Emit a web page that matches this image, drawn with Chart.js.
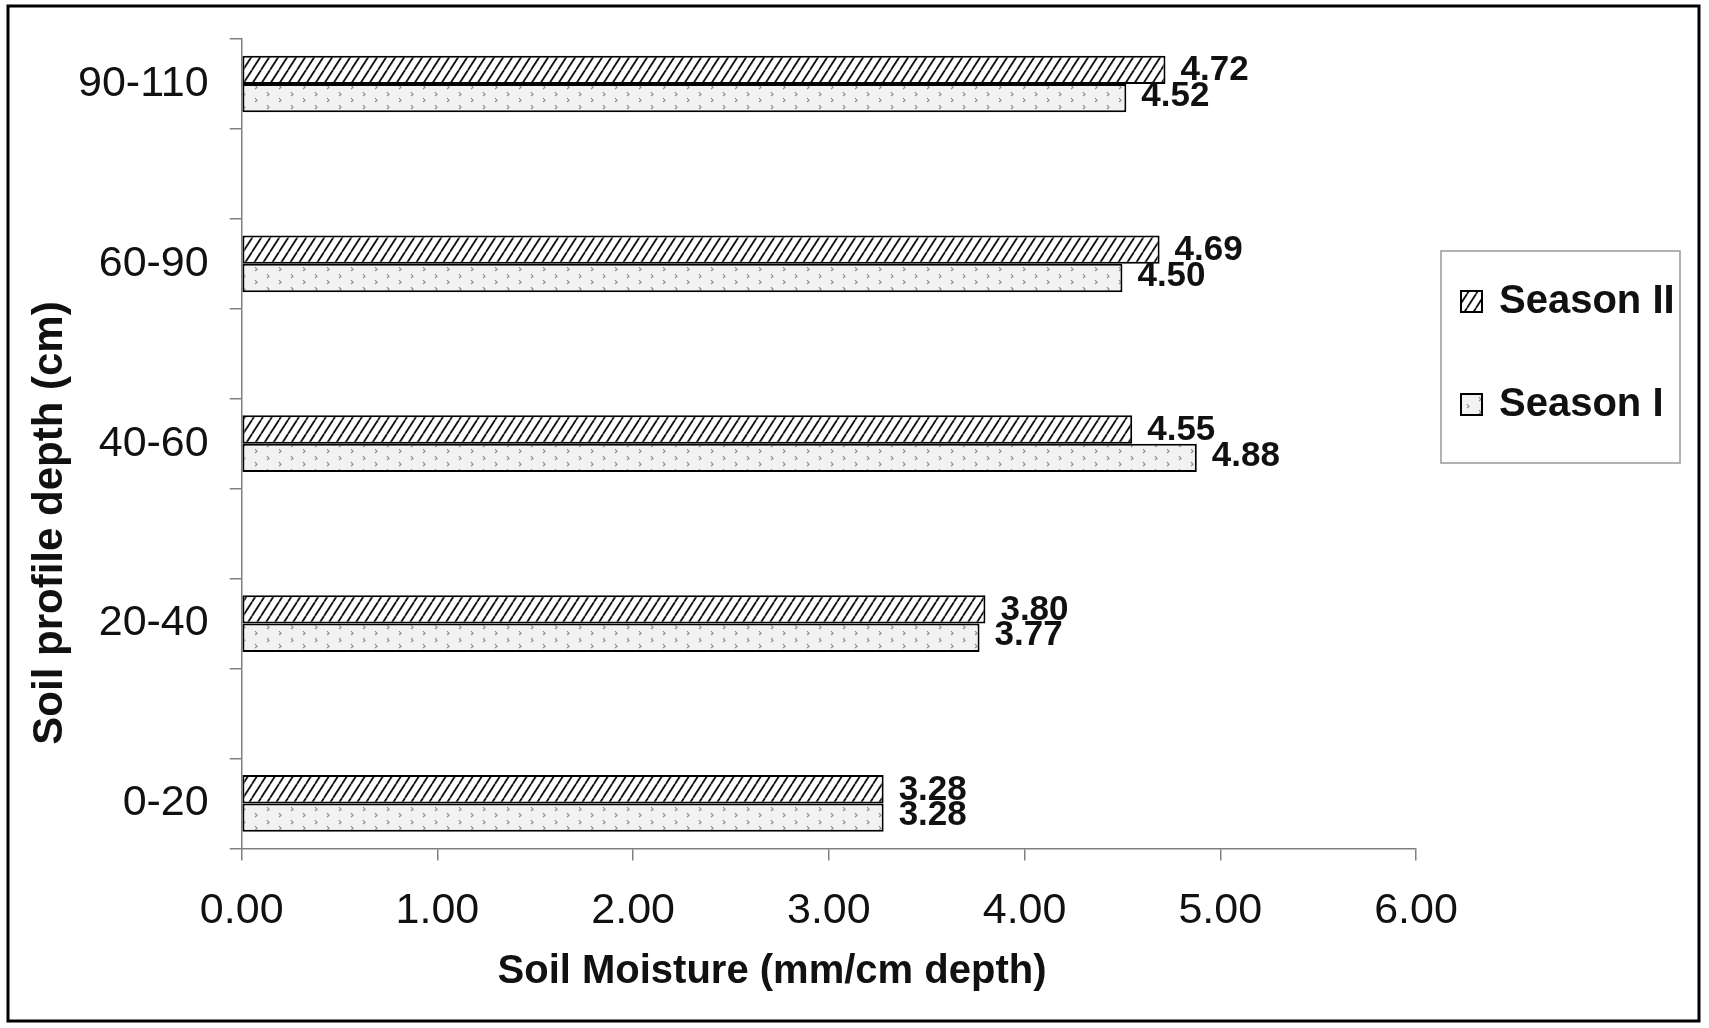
<!DOCTYPE html>
<html>
<head>
<meta charset="utf-8">
<title>Soil moisture by profile depth</title>
<script src="https://cdn.jsdelivr.net/npm/chart.js@4.4.1/dist/chart.umd.min.js"></script>
<style>
    html, body { margin: 0; padding: 0; background: #fff; }
    #wrap { width: 1709px; height: 1028px; }
</style>
</head>
<body>
<div id="wrap"><canvas id="moistureChart" width="1709" height="1028"></canvas></div>
<script>
// ==================== Data ====================
const depthLabels = ['90-110', '60-90', '40-60', '20-40', '0-20'];
const seasonTwo = [4.72, 4.69, 4.55, 3.80, 3.28];
const seasonOne = [4.52, 4.50, 4.88, 3.77, 3.28];
const xTicks = [0, 1, 2, 3, 4, 5, 6];

const xTitle = 'Soil Moisture (mm/cm depth)';
const yTitle = 'Soil profile depth (cm)';

const FONT = "'Liberation Sans', Arial, sans-serif";
const INK = '#111';
const AXIS = '#808080';

// original chart leaves an empty slot between depth groups
function withGaps(arr, filler) {
    const out = [];
    arr.forEach((v, i) => {
        if (i > 0) out.push(filler);
        out.push(v);
    });
    return out;
}

// ==================== Fill patterns ====================
function hatchPattern() {
    const w = 9, h = 14;
    const c = document.createElement('canvas');
    c.width = w; c.height = h;
    const g = c.getContext('2d');
    g.fillStyle = '#fff';
    g.fillRect(0, 0, w, h);
    g.strokeStyle = '#111';
    g.lineWidth = 1.8;
    [-w, 0, w].forEach(off => {
        g.beginPath();
        g.moveTo(off, h);
        g.lineTo(off + w, 0);
        g.stroke();
    });
    return g.createPattern(c, 'repeat');
}

function speckPattern() {
    const c = document.createElement('canvas');
    c.width = 24; c.height = 13;
    const g = c.getContext('2d');
    g.fillStyle = '#f2f2f2';
    g.fillRect(0, 0, 24, 13);
    g.strokeStyle = '#8c8c8c';
    g.lineWidth = 1.2;
    g.beginPath();
    g.moveTo(3, 1); g.lineTo(5, 3.5); g.lineTo(3, 5);
    g.moveTo(15, 7); g.lineTo(17, 9.5); g.lineTo(15, 11);
    g.stroke();
    return g.createPattern(c, 'repeat');
}

// ==================== Plugins ====================
const valueLabels = {
    id: 'valueLabels',
    afterDatasetsDraw(chart) {
        const ctx = chart.ctx;
        const nudge = [1, -2];
        ctx.save();
        ctx.font = `bold 35px ${FONT}`;
        ctx.fillStyle = INK;
        ctx.textAlign = 'left';
        ctx.textBaseline = 'middle';
        chart.data.datasets.forEach((ds, di) => {
            chart.getDatasetMeta(di).data.forEach((bar, i) => {
                const v = ds.data[i];
                if (v === null) return;
                ctx.fillText(v.toFixed(2), bar.x + 15, bar.y + nudge[di]);
            });
        });
        ctx.restore();
    }
};

// axis titles sit off-centre in the original, so they are drawn here
const axisTitles = {
    id: 'axisTitles',
    afterDraw(chart) {
        const ctx = chart.ctx;
        ctx.save();
        ctx.fillStyle = INK;
        ctx.textAlign = 'center';
        ctx.textBaseline = 'middle';
        ctx.font = `bold 40px ${FONT}`;
        ctx.fillText(xTitle, 772, 972);

        ctx.translate(50, 523);
        ctx.rotate(-Math.PI / 2);
        ctx.font = `bold 42px ${FONT}`;
        ctx.fillText(yTitle, 0, 0);
        ctx.restore();
    }
};

const seasonLegend = {
    id: 'seasonLegend',
    afterDraw(chart) {
        const ctx = chart.ctx;
        const left = chart.chartArea.right + 25;
        const top = 251;
        ctx.save();
        ctx.strokeStyle = '#999';
        ctx.lineWidth = 1.5;
        ctx.strokeRect(left, top, 239, 212);

        const rows = [301, 404];
        ctx.font = `bold 40px ${FONT}`;
        ctx.textBaseline = 'middle';
        chart.data.datasets.forEach((ds, i) => {
            const y = rows[i];
            ctx.fillStyle = ds.backgroundColor;
            ctx.fillRect(left + 20, y - 10, 21, 21);
            ctx.strokeStyle = '#000';
            ctx.lineWidth = 2;
            ctx.strokeRect(left + 20, y - 10, 21, 21);
            ctx.fillStyle = INK;
            ctx.fillText(ds.label, left + 58, y + 1);
        });
        ctx.restore();
    }
};

const outerFrame = {
    id: 'outerFrame',
    beforeDraw(chart) {
        const ctx = chart.ctx;
        ctx.save();
        ctx.fillStyle = '#fff';
        ctx.fillRect(0, 0, chart.width, chart.height);
        ctx.restore();
    },
    afterDraw(chart) {
        const ctx = chart.ctx;
        ctx.save();
        ctx.strokeStyle = '#000';
        ctx.lineWidth = 3;
        ctx.strokeRect(8, 6, 1691, 1015);
        ctx.restore();
    }
};

// ==================== Chart ====================
document.addEventListener('DOMContentLoaded', function () {
    const ctx = document.getElementById('moistureChart').getContext('2d');

    new Chart(ctx, {
        type: 'bar',
        data: {
            labels: withGaps(depthLabels, ''),
            datasets: [{
                label: 'Season II',
                data: withGaps(seasonTwo, null),
                backgroundColor: hatchPattern(),
                borderColor: '#000',
                borderWidth: 2,
                borderSkipped: false
            }, {
                label: 'Season I',
                data: withGaps(seasonOne, null),
                backgroundColor: speckPattern(),
                borderColor: '#000',
                borderWidth: 2,
                borderSkipped: false
            }]
        },
        options: {
            indexAxis: 'y',
            responsive: false,
            animation: false,
            categoryPercentage: 0.63,
            barPercentage: 1.0,
            layout: {
                padding: { top: 39, left: 57, right: 293, bottom: 66 }
            },
            plugins: {
                legend: { display: false },
                tooltip: { enabled: false }
            },
            scales: {
                y: {
                    type: 'category',
                    offset: true,
                    grid: {
                        offset: true,
                        drawOnChartArea: false,
                        tickLength: 12,
                        color: AXIS,
                        lineWidth: 1.5
                    },
                    border: { color: AXIS, width: 1.5 },
                    ticks: {
                        autoSkip: false,
                        padding: 21,
                        color: INK,
                        font: { family: FONT, size: 43 }
                    },
                    // labels never reach past the axis ends here
                    afterFit: function (scale) {
                        scale.paddingTop = 0;
                        scale.paddingBottom = 0;
                    }
                },
                x: {
                    min: xTicks[0],
                    max: xTicks[xTicks.length - 1],
                    grid: {
                        drawOnChartArea: false,
                        tickLength: 12,
                        color: AXIS,
                        lineWidth: 1.5
                    },
                    border: { color: AXIS, width: 1.5 },
                    ticks: {
                        stepSize: 1,
                        padding: 25,
                        color: INK,
                        font: { family: FONT, size: 43 },
                        callback: function (value) {
                            return Number(value).toFixed(2);
                        }
                    }
                }
            }
        },
        plugins: [outerFrame, valueLabels, axisTitles, seasonLegend]
    });
});
</script>
</body>
</html>
